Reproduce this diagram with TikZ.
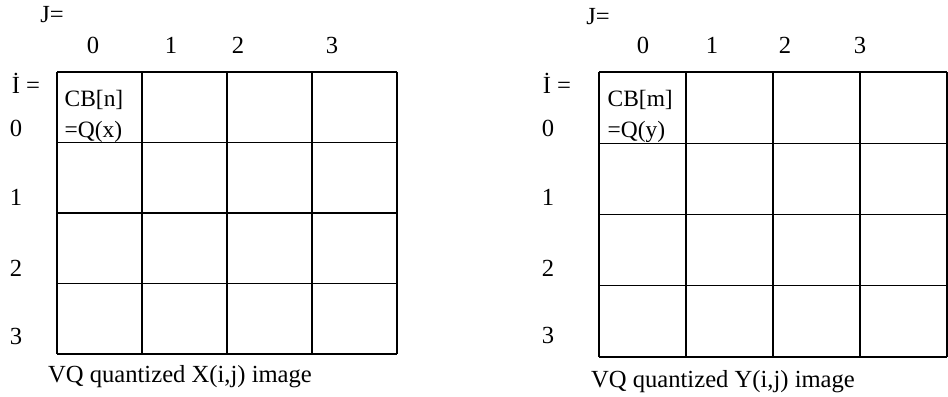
\documentclass[tikz,border=0pt]{standalone}
\usepackage{fontspec}
\setmainfont{Liberation Serif}
\begin{document}
\begin{tikzpicture}[x=0.03cm, y=-0.03cm, line width=0.9pt,
  every node/.style={font=\fontsize{21}{24}\selectfont, inner sep=1pt}]
\useasboundingbox (0,0) rectangle (948,397);
% left image
\foreach \x in {57,142,227,312,397}
  \draw (\x,72) -- (\x,354);
\foreach \y in {72,142.5,213,283.5,354}
  \draw (57,\y) -- (397,\y);
\node (jl) at (52,15) {J=};
\foreach \c/\x in {0/93,1/171,2/238,3/332}
  \node (cl\c) at (\x,45) {\c};
\node (il) at (26,83) {İ =};
\foreach \r/\y in {0/128,1/197,2/268,3/336}
  \node (rl\r) at (16,\y) {\r};
\node[anchor=north west, align=left, font=\fontsize{20}{26}\selectfont] (cbl) at (63,89) {CB[n]\\=Q(x)};
\node (capl) at (180,377) {VQ quantized X(i,j) image};
% right image
\foreach \x in {599,686,773,860,947}
  \draw (\x,72) -- (\x,357);
\foreach \y in {72,143.25,214.5,285.75,357}
  \draw (599,\y) -- (947,\y);
\node (jr) at (598,17) {J=};
\foreach \c/\x in {0/643,1/712,2/785,3/860}
  \node (cr\c) at (\x,45) {\c};
\node (ir) at (557,83) {İ =};
\foreach \r/\y in {0/128,1/197,2/268,3/335}
  \node (rr\r) at (548,\y) {\r};
\node[anchor=north west, align=left, font=\fontsize{20}{26}\selectfont] (cbr) at (606,89) {CB[m]\\=Q(y)};
\node (capr) at (723,382) {VQ quantized Y(i,j) image};
\end{tikzpicture}
\end{document}
